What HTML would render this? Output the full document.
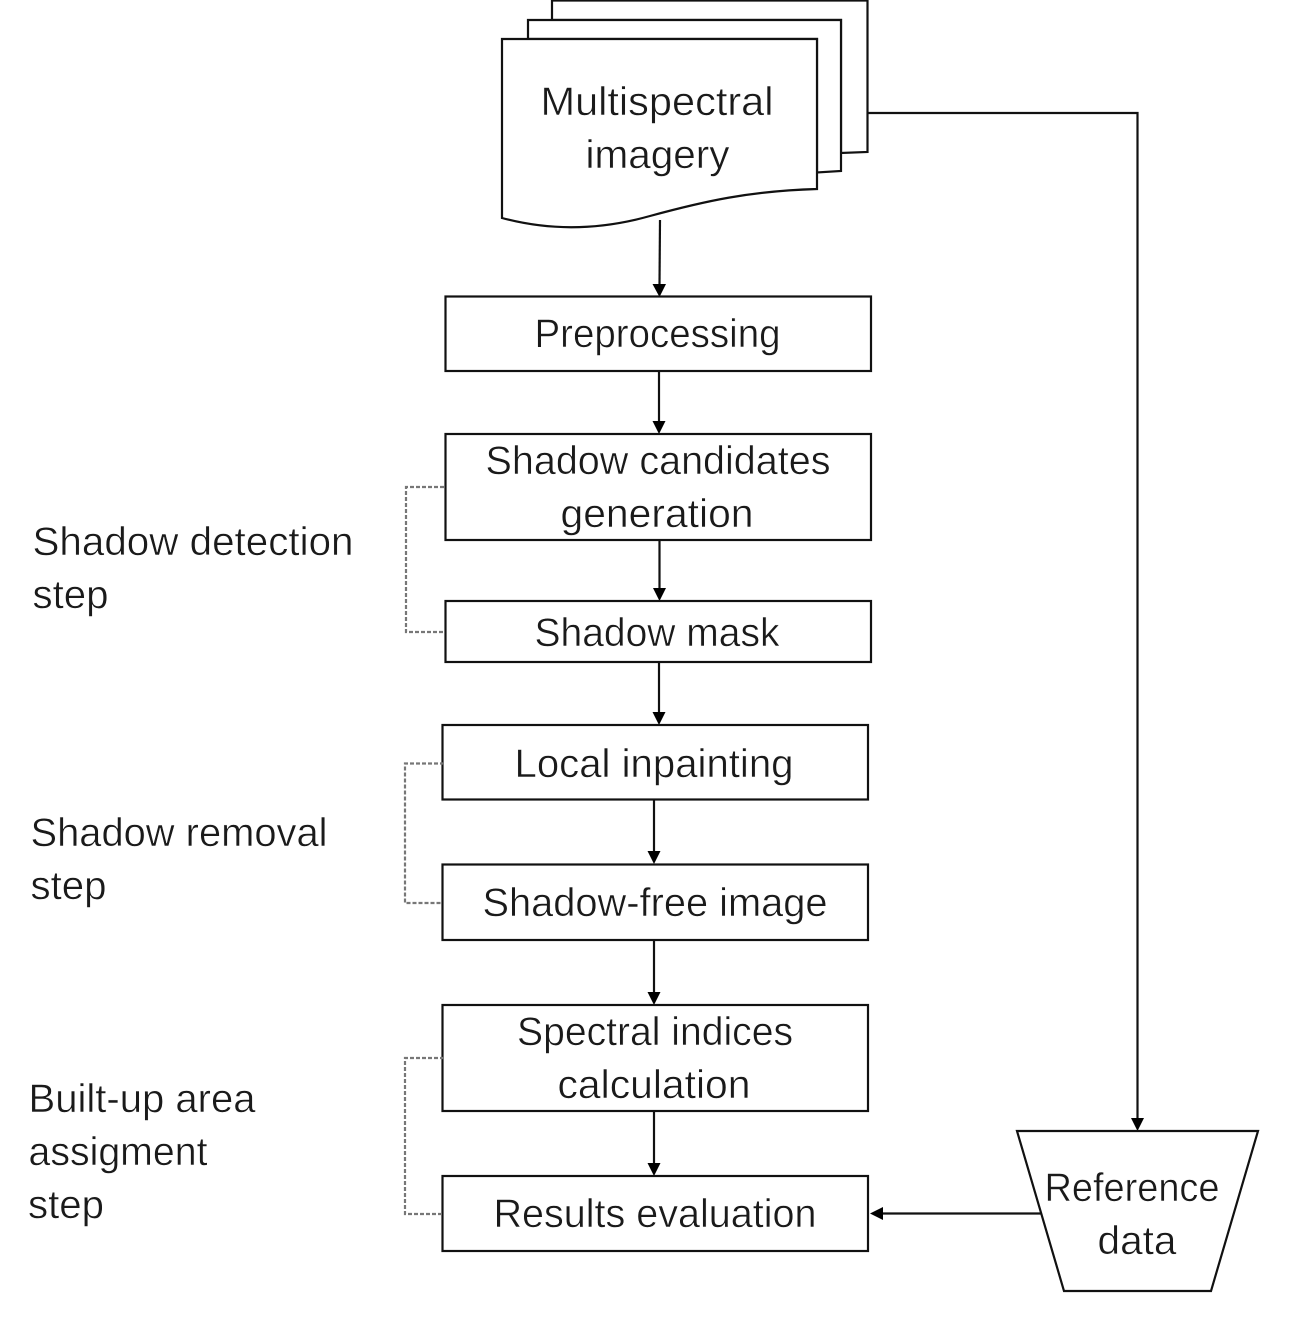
<!DOCTYPE html>
<html><head><meta charset="utf-8"><style>
html,body{margin:0;padding:0;background:#fff;width:1300px;height:1343px;overflow:hidden}
svg{display:block}
text{font-family:"Liberation Sans",sans-serif;font-size:40px;fill:#1a1a1a;stroke:#fff;stroke-width:0.5px;paint-order:normal}
.b{fill:#fff;stroke:#111;stroke-width:2.2}
.l{fill:none;stroke:#111;stroke-width:2.2}
.d{fill:none;stroke:#777;stroke-width:2.2;stroke-dasharray:4 2}
.a{fill:#000;stroke:none}
</style></head><body>
<svg width="1300" height="1343" viewBox="0 0 1300 1343" xmlns="http://www.w3.org/2000/svg">
<!-- stacked documents -->
<path class="b" d="M552 20 V0.500 H867.500 V152 L841 153 V20 Z"/>
<path class="b" d="M528 39 V20 H841 V171 L817 172.500 V39 Z"/>
<path class="b" d="M502 39 H817 V189 C750 191 705 201 650 216 C600 230 550 231 502 218 Z"/>
<!-- connectors -->
<path class="l" d="M660 220 L659.500 285"/><path class="a" d="M659.500 297 L652.500 284 H666 Z"/>
<path class="l" d="M659 371 V422"/><path class="a" d="M659 434 L652.500 421 H665.500 Z"/>
<path class="l" d="M659.500 540 V589"/><path class="a" d="M659.500 601 L653 588 H666 Z"/>
<path class="l" d="M659 662 V713"/><path class="a" d="M659 725 L652.500 712 H665.500 Z"/>
<path class="l" d="M654 799 V852"/><path class="a" d="M654 864 L647.500 851 H660.500 Z"/>
<path class="l" d="M654 940 V993"/><path class="a" d="M654 1005 L647.500 992 H660.500 Z"/>
<path class="l" d="M654 1111 V1164"/><path class="a" d="M654 1176 L647.500 1163 H660.500 Z"/>
<path class="l" d="M868 113 H1137.500 V1119"/><path class="a" d="M1137.500 1131 L1131 1118 H1144 Z"/>
<path class="l" d="M1042 1213.500 H882"/><path class="a" d="M870 1213.500 L883 1207 V1220 Z"/>
<!-- boxes -->
<rect class="b" x="445.500" y="296.500" width="425.500" height="74.500"/>
<rect class="b" x="445.500" y="434" width="425.500" height="106"/>
<rect class="b" x="445.500" y="601" width="425.500" height="61"/>
<rect class="b" x="442.500" y="725" width="425.500" height="74.500"/>
<rect class="b" x="442.500" y="864.500" width="425.500" height="75.500"/>
<rect class="b" x="442.500" y="1005" width="425.500" height="106"/>
<rect class="b" x="442.500" y="1176" width="425.500" height="75"/>
<path class="b" d="M1017 1131 H1258 L1211 1291 H1064 Z"/>
<!-- dashed brackets -->
<path class="d" d="M444 487 H406 V632 H444"/>
<path class="d" d="M444 763.500 H405 V903 H442"/>
<path class="d" d="M444 1058 H405 V1214 H442"/>
<!-- labels -->
<text x="540.500" y="115" textLength="233" lengthAdjust="spacingAndGlyphs">Multispectral</text>
<text x="585.500" y="168" textLength="144" lengthAdjust="spacingAndGlyphs">imagery</text>
<text x="534.500" y="347" textLength="246" lengthAdjust="spacingAndGlyphs">Preprocessing</text>
<text x="485.500" y="474" textLength="345" lengthAdjust="spacingAndGlyphs">Shadow candidates</text>
<text x="560.500" y="527" textLength="193" lengthAdjust="spacingAndGlyphs">generation</text>
<text x="534.500" y="646" textLength="245" lengthAdjust="spacingAndGlyphs">Shadow mask</text>
<text x="514.500" y="777" textLength="279" lengthAdjust="spacingAndGlyphs">Local inpainting</text>
<text x="482.500" y="916" textLength="345" lengthAdjust="spacingAndGlyphs">Shadow-free image</text>
<text x="517" y="1045" textLength="276" lengthAdjust="spacingAndGlyphs">Spectral indices</text>
<text x="557.500" y="1098" textLength="193" lengthAdjust="spacingAndGlyphs">calculation</text>
<text x="493.500" y="1227" textLength="323" lengthAdjust="spacingAndGlyphs">Results evaluation</text>
<text x="1044.500" y="1201" textLength="175" lengthAdjust="spacingAndGlyphs">Reference</text>
<text x="1097.500" y="1254" textLength="79" lengthAdjust="spacingAndGlyphs">data</text>
<text x="32.500" y="555" textLength="321" lengthAdjust="spacingAndGlyphs">Shadow detection</text>
<text x="32.500" y="608" textLength="76" lengthAdjust="spacingAndGlyphs">step</text>
<text x="30.500" y="846" textLength="297" lengthAdjust="spacingAndGlyphs">Shadow removal</text>
<text x="30.500" y="899" textLength="76" lengthAdjust="spacingAndGlyphs">step</text>
<text x="28.500" y="1112" textLength="227" lengthAdjust="spacingAndGlyphs">Built-up area</text>
<text x="28.500" y="1165" textLength="179" lengthAdjust="spacingAndGlyphs">assigment</text>
<text x="28" y="1218" textLength="76" lengthAdjust="spacingAndGlyphs">step</text>
</svg>
</body></html>
